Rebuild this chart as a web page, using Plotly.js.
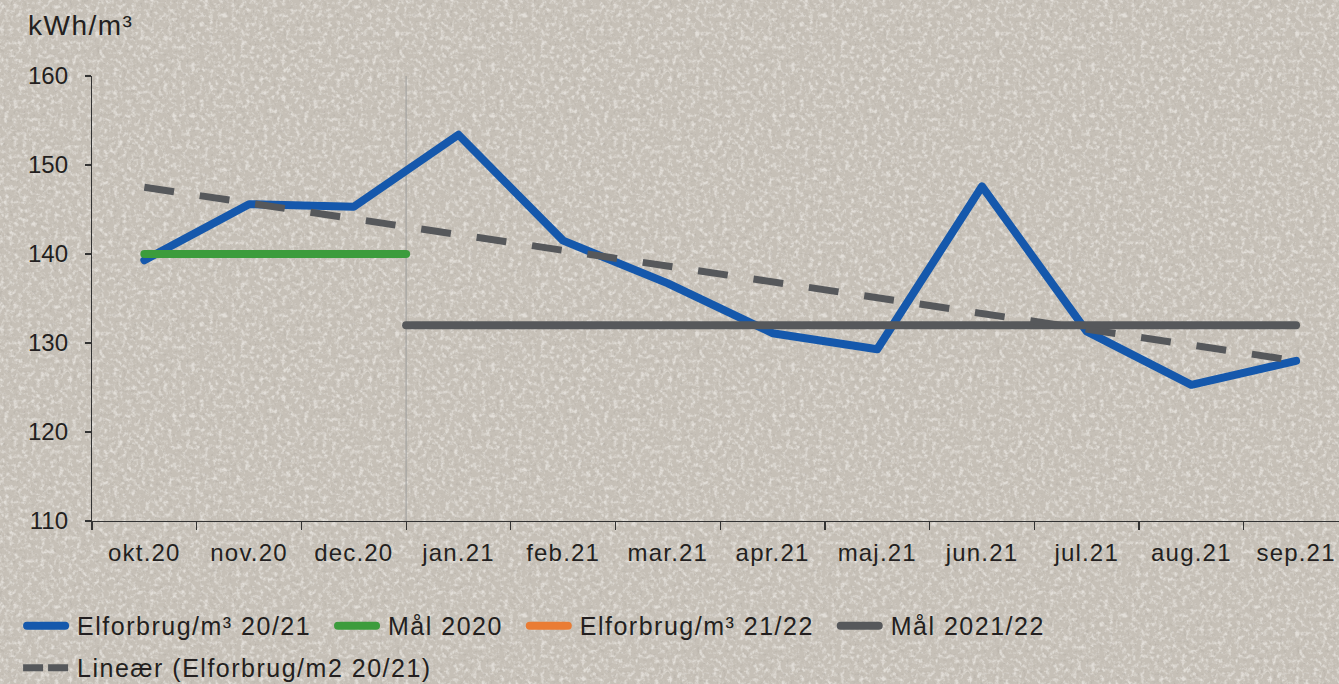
<!DOCTYPE html>
<html>
<head>
<meta charset="utf-8">
<script src="https://cdn.plot.ly/plotly-3.0.1.min.js"></script>
<style>
  html, body { margin: 0; padding: 0; }
  body {
    background-color: #c6c0b7;
    background-image: url("data:image/svg+xml;utf8,<svg xmlns='http://www.w3.org/2000/svg' width='300' height='300'><filter id='a' x='0' y='0' width='100%25' height='100%25'><feTurbulence type='fractalNoise' baseFrequency='0.22' numOctaves='3' seed='3' stitchTiles='stitch'/><feColorMatrix type='matrix' values='0 0 0 0 1 0 0 0 0 0.99 0 0 0 0 0.97 3.0 0 0 0 -1.4'/></filter><filter id='b' x='0' y='0' width='100%25' height='100%25'><feTurbulence type='fractalNoise' baseFrequency='0.3' numOctaves='2' seed='11' stitchTiles='stitch'/><feColorMatrix type='matrix' values='0 0 0 0 0.42 0 0 0 0 0.39 0 0 0 0 0.35 3.4 0 0 0 -1.9'/></filter><rect width='300' height='300' filter='url(%23a)' opacity='0.5'/><rect width='300' height='300' filter='url(%23b)' opacity='0.45'/></svg>");
  }
  #chart { width: 1339px; height: 684px; }
  .xtick text { letter-spacing: 1.2px; }
  .legendtext { letter-spacing: 1.5px; }
  .annotation-text { letter-spacing: 1.5px; }
</style>
</head>
<body>
<div id="chart"></div>
<script>
// ---- data ----
const categories = ['okt.20','nov.20','dec.20','jan.21','feb.21','mar.21','apr.21','maj.21','jun.21','jul.21','aug.21','sep.21'];
const elforbrug2021 = [139.3, 145.6, 145.3, 153.4, 141.5, 136.7, 131.1, 129.3, 147.6, 131.3, 125.3, 128.0];
const elforbrug2122 = [null, null, null, null, null, null, null, null, null, null, null, null];
const maal2020Value = 140;
const maal2020From = 'okt.20';
const maal2020To = 'dec.20';
const maal2122Value = 132;
const maal2122From = 'jan.21';
const maal2122To = 'sep.21';
const trendStartEnd = [147.5, 128.0];   // Lineær (Elforbrug/m2 20/21) at first and last month
const yTicks = [110, 120, 130, 140, 150, 160];
const seriesNames = ['Elforbrug/m³ 20/21', 'Mål 2020', 'Elforbrug/m³ 21/22', 'Mål 2021/22', 'Lineær (Elforbrug/m2 20/21)'];

// ---- helpers ----
const idx = c => categories.indexOf(c);
const xs = categories.map((c, i) => i);
const boundaries = [];
for (let i = -1; i < categories.length; i++) boundaries.push(i + 0.5);

const FONT = 'Liberation Sans, Arial, Helvetica, sans-serif';
const TXT = '#231f20';
const PAD = '\u00a0\u00a0';

const traces = [
  { x: xs, y: elforbrug2021, name: seriesNames[0] + PAD, mode: 'lines', legend: 'legend',
    line: { color: '#1558ac', width: 8 } },
  { x: [idx(maal2020From), idx(maal2020To) + 0.5], y: [maal2020Value, maal2020Value], name: seriesNames[1] + PAD, mode: 'lines', legend: 'legend',
    line: { color: '#3c9c3c', width: 8 } },
  { x: xs, y: elforbrug2122, name: seriesNames[2] + PAD, mode: 'lines', legend: 'legend',
    line: { color: '#ea7c34', width: 8 } },
  { x: [idx(maal2122From) - 0.5, idx(maal2122To)], y: [maal2122Value, maal2122Value], name: seriesNames[3], mode: 'lines', legend: 'legend',
    line: { color: '#56585b', width: 8 } },
  { x: [0, categories.length - 1], y: trendStartEnd, name: seriesNames[4], mode: 'lines', legend: 'legend2',
    line: { color: '#56585b', width: 7, dash: '30px,26px' } }
];

function legendOpts(y) {
  return {
    orientation: 'h', xref: 'container', yref: 'container', x: 0.0165, y: y, xanchor: 'left', yanchor: 'middle',
    itemwidth: 45, font: { family: FONT, size: 25, color: TXT }, bgcolor: 'rgba(0,0,0,0)', traceorder: 'normal', borderwidth: 0
  };
}

const layout = {
  width: 1339, height: 684,
  paper_bgcolor: 'rgba(0,0,0,0)', plot_bgcolor: 'rgba(0,0,0,0)',
  margin: { l: 92, r: 0, t: 76, b: 163, pad: 0 },
  font: { family: FONT, color: TXT, size: 24 },
  showlegend: true,
  xaxis: {
    range: [-0.5, 11.41], tickmode: 'array', tickvals: xs, ticktext: categories,
    ticks: 'outside', ticklen: 0, ticklabelstandoff: 10, tickfont: { size: 24, color: TXT },
    showline: true, linecolor: '#333', linewidth: 1.2, showgrid: false, zeroline: false,
    fixedrange: true,
    minor: { tickmode: 'array', tickvals: boundaries, ticks: 'outside', ticklen: 8, tickwidth: 1.2, tickcolor: '#333', showgrid: false }
  },
  yaxis: {
    range: [110, 160], tickmode: 'array', tickvals: yTicks,
    ticks: 'outside', ticklen: 6, tickwidth: 1.2, tickcolor: '#333', ticklabelstandoff: 12,
    showline: true, linecolor: '#333', linewidth: 1.2, showgrid: false, zeroline: false,
    tickfont: { size: 24, color: TXT }, fixedrange: true
  },
  shapes: [
    { type: 'line', xref: 'x', yref: 'paper', x0: idx(maal2020To) + 0.5, x1: idx(maal2020To) + 0.5, y0: 0, y1: 1,
      line: { color: '#a4a3a1', width: 1.2 }, layer: 'below' }
  ],
  annotations: [
    { text: 'kWh/m³', xref: 'paper', yref: 'paper', x: -0.053, y: 1.075, xanchor: 'left', yanchor: 'bottom',
      showarrow: false, font: { size: 28, color: TXT } }
  ],
  legend: legendOpts(0.0848),
  legend2: legendOpts(0.0234)
};

function polish() {
  const root = document.getElementById('chart');
  root.querySelectorAll('text').forEach(t => {
    const s = t.textContent || '';
    if (seriesNames.some(n => s.indexOf(n) === 0)) t.style.letterSpacing = '1.5px';
  });
  // legend boxes were sized before the letter spacing: let their text show in full
  root.querySelectorAll('[clip-path]').forEach(el => {
    const cp = el.getAttribute('clip-path') || '';
    if (cp.indexOf('legend') !== -1) el.removeAttribute('clip-path');
  });
  root.querySelectorAll('.js-line').forEach(p => {
    const da = p.style.strokeDasharray;
    if (!da || da === 'none') { p.style.strokeLinecap = 'round'; p.style.strokeLinejoin = 'round'; }
  });
  root.querySelectorAll('.legendlines .js-line, .legendpoints .js-line, .legendsymbols .js-line').forEach(p => {
    if (p.getAttribute('data-done')) return;
    const d = p.getAttribute('d') || '';
    const m = d.match(/^M([\d.\-]+),([\d.\-]+)h([\d.]+)$/);
    if (!m) return;
    const x0 = parseFloat(m[1]), y0 = m[2], len = parseFloat(m[3]);
    const da = p.style.strokeDasharray;
    if (da && da !== 'none') {
      p.setAttribute('d', 'M' + (x0 - 4) + ',' + y0 + 'h45');
      p.style.strokeDasharray = '20px,5px';
    } else {
      p.setAttribute('d', 'M' + x0 + ',' + y0 + 'h' + (len - 7));
    }
    p.setAttribute('data-done', '1');
  });
}

Plotly.newPlot('chart', traces, layout, { staticPlot: true, displayModeBar: false }).then(() => {
  polish();
  setTimeout(polish, 30);
  setTimeout(polish, 200);
});
</script>
</body>
</html>
